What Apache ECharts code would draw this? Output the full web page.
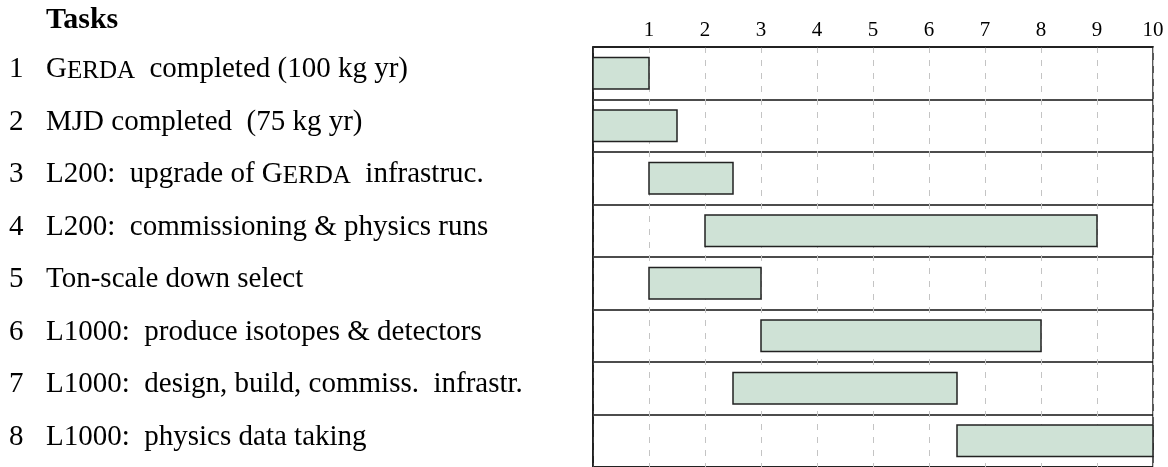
<!DOCTYPE html>
<html>
<head>
<meta charset="utf-8">
<script src="https://cdn.jsdelivr.net/npm/echarts@6/dist/echarts.min.js"></script>
<style>html,body{margin:0;padding:0;background:#fff}#c{width:1168px;height:467px}</style>
</head>
<body>
<div id="c"></div>
<script>
const headerText = 'Tasks';
const taskNumbers = ['1', '2', '3', '4', '5', '6', '7', '8'];
const taskNames = [
  'GERDA  completed (100 kg yr)',
  'MJD completed  (75 kg yr)',
  'L200:  upgrade of GERDA  infrastruc.',
  'L200:  commissioning & physics runs',
  'Ton-scale down select',
  'L1000:  produce isotopes & detectors',
  'L1000:  design, build, commiss.  infrastr.',
  'L1000:  physics data taking'
];
const taskStarts = [0, 0, 1, 2, 1, 3, 2.5, 6.5];
const taskEnds = [1, 1.5, 2.5, 9, 3, 8, 6.5, 10];
const timeTicks = ['1', '2', '3', '4', '5', '6', '7', '8', '9', '10'];

const FONT = '"Liberation Serif", "DejaVu Serif", serif';
const LABEL_SIZE = 29;
const SC_SIZE = 25;

function richName(name) {
  const parts = name.split('GERDA');
  let out = '';
  parts.forEach((p, i) => {
    if (i > 0) out += '{t|G}{sc|ERDA}';
    if (p.length) out += '{t|' + p + '}';
  });
  return out;
}

const chart = echarts.init(document.getElementById('c'), null, {renderer: 'canvas'});
const barData = taskStarts.map((s, i) => [s, taskEnds[i], i]);

chart.setOption({
  animation: false,
  backgroundColor: '#fff',
  title: {
    text: headerText,
    left: 41,
    top: 0,
    textStyle: {fontFamily: FONT, fontWeight: 'bold', fontSize: 30, color: '#000'}
  },
  grid: {
    left: 593, top: 47, width: 560, height: 424,
    show: true, borderColor: '#222', borderWidth: 1.5, backgroundColor: 'transparent'
  },
  xAxis: {
    type: 'value', position: 'top', min: 0, max: 10, interval: 1,
    axisLine: {show: true, lineStyle: {color: '#222', width: 1.5}},
    axisTick: {show: false},
    axisLabel: {
      margin: 6, fontFamily: FONT, fontSize: 21, color: '#000',
      formatter: v => (v >= 1 ? timeTicks[v - 1] : '')
    },
    splitLine: {show: true, lineStyle: {color: '#c4c4c4', width: 1, type: [6, 7]}}
  },
  yAxis: {
    type: 'category', inverse: true,
    data: taskNames,
    axisLine: {show: true, lineStyle: {color: '#111', width: 1.5}},
    axisTick: {show: false},
    splitLine: {show: true, lineStyle: {color: '#111', width: 1.5}},
    axisLabel: {
      align: 'left', margin: 584,
      padding: [0, 0, 10, 0],
      formatter: (v, i) => '{n|' + taskNumbers[i] + '}' + richName(v),
      rich: {
        n: {fontFamily: FONT, fontSize: LABEL_SIZE, color: '#000', width: 37, align: 'left', verticalAlign: 'bottom', lineHeight: 32},
        t: {fontFamily: FONT, fontSize: LABEL_SIZE, color: '#000', verticalAlign: 'bottom', lineHeight: 32},
        sc: {fontFamily: FONT, fontSize: SC_SIZE, color: '#000', verticalAlign: 'bottom', lineHeight: 31}
      }
    }
  },
  series: [{
    type: 'custom',
    encode: {x: [0, 1], y: 2},
    data: barData,
    renderItem: (params, api) => {
      const p0 = api.coord([api.value(0), api.value(2)]);
      const p1 = api.coord([api.value(1), api.value(2)]);
      const h = api.size([0, 1])[1] * 0.6;
      return {
        type: 'rect',
        shape: {x: p0[0], y: p0[1] - h / 2, width: p1[0] - p0[0], height: h},
        style: {fill: '#cfe2d6', stroke: '#222', lineWidth: 1.5}
      };
    }
  }]
});
</script>
</body>
</html>
